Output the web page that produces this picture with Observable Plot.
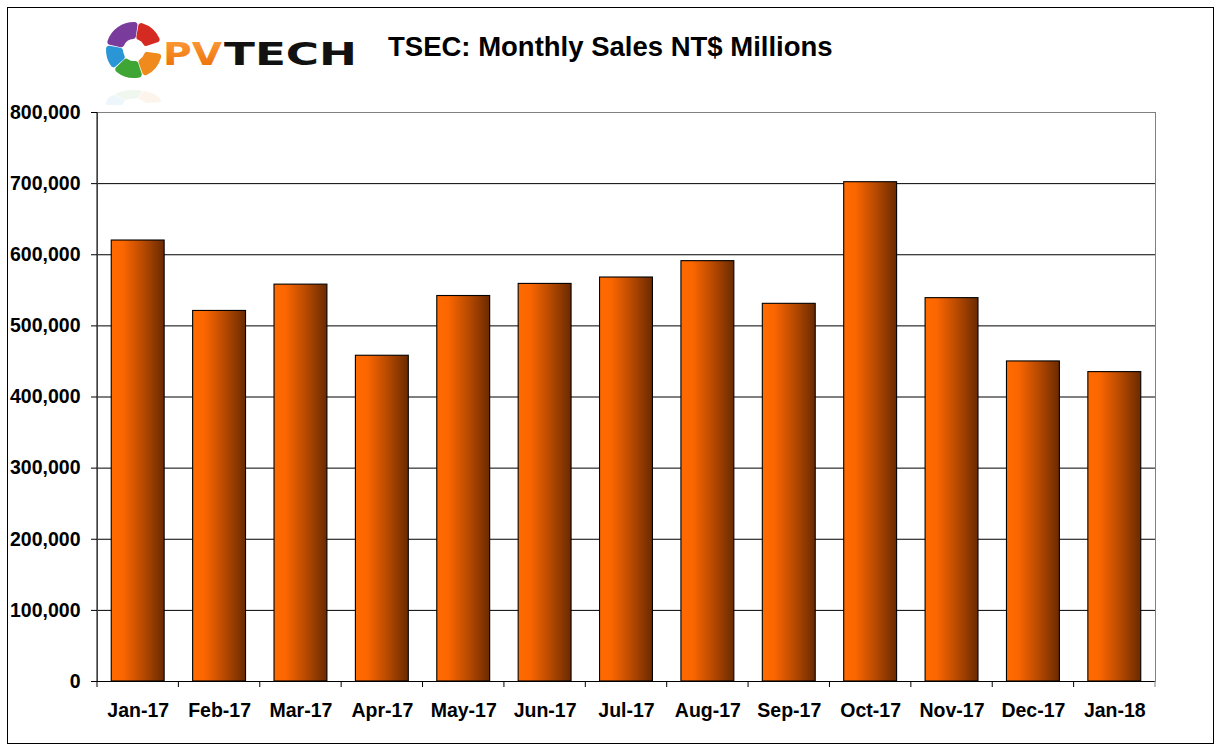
<!DOCTYPE html>
<html>
<head>
<meta charset="utf-8">
<script src="https://cdn.jsdelivr.net/npm/d3@7"></script>
<script src="https://cdn.jsdelivr.net/npm/@observablehq/plot@0.6"></script>
<style>
  body { margin: 0; background: #fff; }
  #wrap { position: relative; width: 1221px; height: 750px; overflow: hidden; background: #fff;
          font-family: Arial, "Liberation Sans", sans-serif; }
  #border { position: absolute; left: 7px; top: 7px; width: 1205px; height: 735px; border: 1px solid #000; }
  #chart { position: absolute; left: 0; top: 0; }
  #head { position: absolute; left: 0; top: 0; }
</style>
</head>
<body>
<div id="wrap">
  <div id="border"></div>
  <div id="chart"></div>
  <svg id="head" width="900" height="105" xmlns="http://www.w3.org/2000/svg"></svg>
</div>
<script>
// ---- data ----
const months = ["Jan-17","Feb-17","Mar-17","Apr-17","May-17","Jun-17","Jul-17","Aug-17","Sep-17","Oct-17","Nov-17","Dec-17","Jan-18"];
const sales  = [620000, 521000, 558000, 458000, 542000, 559000, 568000, 591000, 531000, 702000, 539000, 450000, 435000];
const yTicks = [0, 100000, 200000, 300000, 400000, 500000, 600000, 700000, 800000];
const titleText = "TSEC: Monthly Sales NT$ Millions";

const data = months.map((m, i) => ({month: m, value: sales[i]}));

const chart = Plot.plot({
  width: 1221,
  height: 750,
  marginLeft: 97,
  marginRight: 66,
  marginTop: 112,
  marginBottom: 69,
  style: {
    fontFamily: 'Arial, "Liberation Sans", sans-serif',
    fontSize: "19.5px",
    fontWeight: "bold",
    color: "#000",
    background: "transparent",
    overflow: "visible"
  },
  x: {domain: months, paddingInner: 0.35, paddingOuter: 0.175, align: 0.5, round: false, tickSize: 0, tickPadding: 22, label: null},
  y: {domain: [0, 800000], ticks: yTicks, tickFormat: d3.format(","), tickSize: 6, tickPadding: 11, label: null},
  marks: [
    Plot.ruleY(yTicks.slice(1, -1), {stroke: "#000", strokeWidth: 1}),
    Plot.frame({stroke: "#808080", strokeWidth: 1}),
    Plot.barY(data, {x: "month", y: "value", fill: "url(#barGrad)", stroke: "#000", strokeWidth: 1.1}),
    Plot.ruleY([0], {stroke: "#000", strokeWidth: 1})
  ]
});
document.getElementById("chart").appendChild(chart);

// gradient for the bars
const svg = d3.select(chart);
const defs = svg.insert("defs", ":first-child");
const g = defs.append("linearGradient").attr("id", "barGrad").attr("x1", "0").attr("x2", "1").attr("y1", "0").attr("y2", "0");
g.append("stop").attr("offset", "0%").attr("stop-color", "#ff6a00");
g.append("stop").attr("offset", "22%").attr("stop-color", "#fb6600");
g.append("stop").attr("offset", "60%").attr("stop-color", "#b84a00");
g.append("stop").attr("offset", "100%").attr("stop-color", "#6a2a00");

// left axis line and category-boundary ticks, from Plot's own scales
const sx = chart.scale("x");
const sy = chart.scale("y");
const y0 = sy.apply(0);
const yTop = sy.apply(800000);
const off = (sx.step - sx.bandwidth) / 2;
const bounds = months.map(m => sx.apply(m) - off);
bounds.push(sx.apply(months[months.length - 1]) + sx.bandwidth + off);
const ax = svg.append("g");
ax.selectAll("line.t").data(bounds).join("line")
  .attr("x1", d => d).attr("x2", d => d)
  .attr("y1", y0).attr("y2", y0 + 6)
  .attr("stroke", (d, i) => i === bounds.length - 1 ? "#808080" : "#000");
ax.append("line")
  .attr("x1", bounds[0]).attr("x2", bounds[0])
  .attr("y1", yTop).attr("y2", y0)
  .attr("stroke", "#000");

// ---- header: logo + title ----
const head = d3.select("#head");
const hd = head.append("defs");
const pvg = hd.append("linearGradient").attr("id", "pvGrad").attr("x1", 0).attr("x2", 0).attr("y1", 0).attr("y2", 1);
pvg.append("stop").attr("offset", "0%").attr("stop-color", "#ffa040");
pvg.append("stop").attr("offset", "100%").attr("stop-color", "#e86a00");
const arc = d3.arc().innerRadius(11).outerRadius(28).cornerRadius(3);
const segs = [
  {a0: -78, a1: 8,   c: "#7a3c9c"},
  {a0: 10,  a1: 72,  c: "#d42a22"},
  {a0: 98,  a1: 160, c: "#f08a1c"},
  {a0: 162, a1: 226, c: "#3fa535"},
  {a0: 228, a1: 280, c: "#2a96d6"}
];
const ring = head.append("g").attr("transform", "translate(134,50)");
ring.selectAll("path").data(segs).join("path")
  .attr("d", d => arc({startAngle: d.a0 * Math.PI / 180, endAngle: d.a1 * Math.PI / 180}))
  .attr("fill", d => d.c);
const refl = head.append("g").attr("transform", "translate(134,104) scale(1,-0.5)").attr("opacity", 0.08);
refl.selectAll("path").data(segs).join("path")
  .attr("d", d => arc({startAngle: d.a0 * Math.PI / 180, endAngle: d.a1 * Math.PI / 180}))
  .attr("fill", d => d.c);
head.append("text").attr("x", 163).attr("y", 65)
  .attr("font-family", '"DejaVu Sans", Arial, sans-serif').attr("font-weight", "bold").attr("font-size", 32)
  .attr("textLength", 59).attr("lengthAdjust", "spacingAndGlyphs")
  .attr("fill", "url(#pvGrad)").text("PV");
head.append("text").attr("x", 224).attr("y", 65)
  .attr("font-family", '"DejaVu Sans", Arial, sans-serif').attr("font-weight", "bold").attr("font-size", 32)
  .attr("textLength", 133).attr("lengthAdjust", "spacingAndGlyphs")
  .attr("fill", "#111").text("TECH");
head.append("text").attr("x", 388).attr("y", 56)
  .attr("font-family", 'Arial, "Liberation Sans", sans-serif').attr("font-weight", "bold").attr("font-size", 27.5)
  .attr("fill", "#000").text(titleText);
</script>
</body>
</html>
